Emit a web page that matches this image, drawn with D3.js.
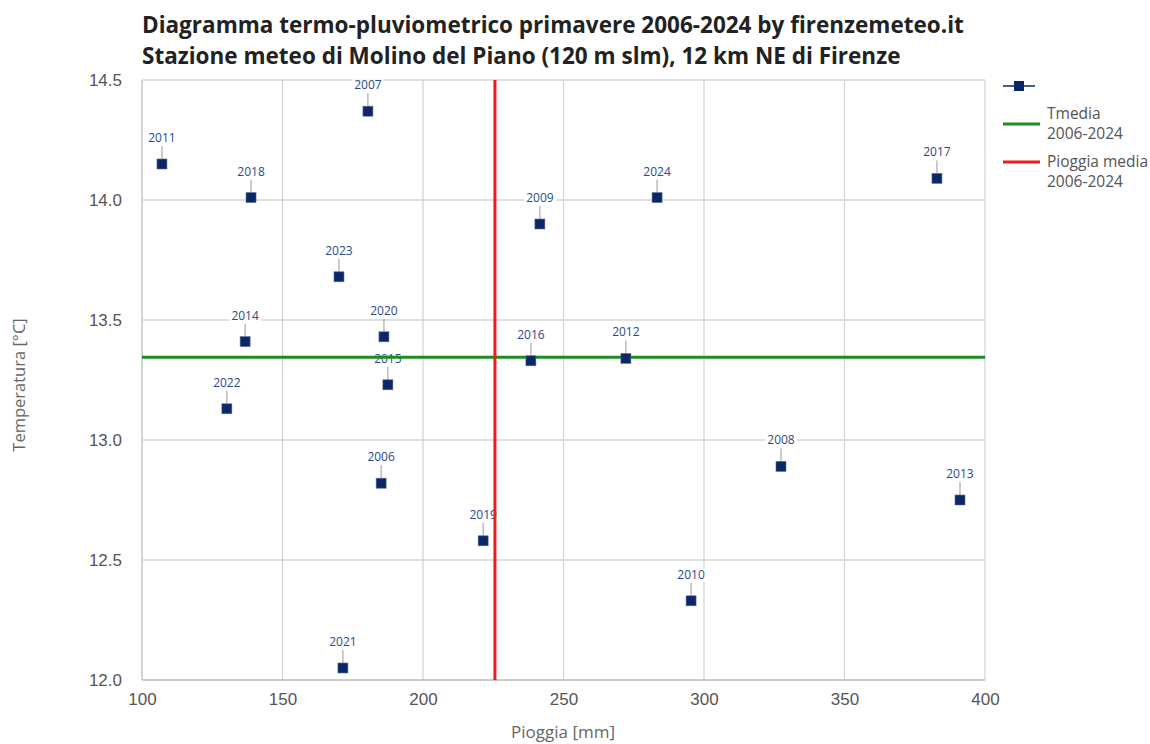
<!DOCTYPE html>
<html>
<head>
<meta charset="utf-8">
<script src="https://cdn.jsdelivr.net/npm/d3@7"></script>
<style>
  body { margin: 0; background: #fff; }
  svg { display: block; }
</style>
</head>
<body>
<svg width="1150" height="744"></svg>
<script>
// --- Data (primavera 2006-2024) ---
const years = [2006, 2007, 2008, 2009, 2010, 2011, 2012, 2013, 2014, 2015,
               2016, 2017, 2018, 2019, 2020, 2021, 2022, 2023, 2024];
const rain = [185.1, 180.4, 327.4, 241.6, 295.4, 107.1, 272.2, 391.1, 136.7, 187.5,
              238.4, 382.9, 138.8, 221.4, 186.1, 171.5, 130.2, 170.1, 283.3];
const temp = [12.82, 14.37, 12.89, 13.90, 12.33, 14.15, 13.34, 12.75, 13.41, 13.23,
              13.33, 14.09, 14.01, 12.58, 13.43, 12.05, 13.13, 13.68, 14.01];
const tMedia = 13.345;
const rainMedia = 225.6;
const xTicks = [100, 150, 200, 250, 300, 350, 400];
const yTicks = [12.0, 12.5, 13.0, 13.5, 14.0, 14.5];

const svg = d3.select("svg");
const margin = { top: 80, right: 165, bottom: 64, left: 142 };
const width = +svg.attr("width");
const height = +svg.attr("height");

const x = d3.scaleLinear().domain([100, 400]).range([margin.left, width - margin.right]);
const y = d3.scaleLinear().domain([12, 14.5]).range([height - margin.bottom, margin.top]);

const navy = "#0b2766";
const labelColor = "#2a4a8a";

// titles
svg.append("text").attr("x", 142).attr("y", 33)
  .attr("font-family", "Open Sans").attr("font-weight", 700).attr("font-size", 22.5)
  .attr("fill", "#222").text("Diagramma termo-pluviometrico primavere 2006-2024 by firenzemeteo.it");
svg.append("text").attr("x", 142).attr("y", 64)
  .attr("font-family", "Open Sans").attr("font-weight", 700).attr("font-size", 22.5)
  .attr("fill", "#222").text("Stazione meteo di Molino del Piano (120 m slm), 12 km NE di Firenze");

// grid
const grid = svg.append("g");
grid.selectAll(".gx").data(xTicks).join("line")
  .attr("x1", d => x(d)).attr("x2", d => x(d))
  .attr("y1", y(12)).attr("y2", y(14.5))
  .attr("stroke", d => d === 100 ? "#bdbdbd" : "#d6d6d6").attr("stroke-width", 1.3);
grid.selectAll(".gy").data(yTicks).join("line")
  .attr("x1", x(100)).attr("x2", x(400))
  .attr("y1", d => y(d)).attr("y2", d => y(d))
  .attr("stroke", d => d === 12 ? "#bdbdbd" : "#d6d6d6").attr("stroke-width", 1.3);

// axes tick labels
const xAxis = svg.append("g").attr("transform", `translate(0,${y(12)})`)
  .call(d3.axisBottom(x).tickValues(xTicks).tickSize(0).tickPadding(13).tickFormat(d3.format("d")));
const yAxis = svg.append("g").attr("transform", `translate(${x(100)},0)`)
  .call(d3.axisLeft(y).tickValues(yTicks).tickSize(0).tickPadding(20).tickFormat(d3.format(".1f")));
[xAxis, yAxis].forEach(a => {
  a.select(".domain").remove();
  a.selectAll("text").attr("font-family", "Liberation Sans, Arial").attr("font-size", 17).attr("fill", "#555");
});

// axis titles
svg.append("text").attr("x", 563).attr("y", 738).attr("text-anchor", "middle")
  .attr("font-family", "Open Sans").attr("font-size", 17).attr("fill", "#666").text("Pioggia [mm]");
svg.append("text").attr("transform", `translate(25,${(y(12) + y(14.5)) / 2 + 5}) rotate(-90)`)
  .attr("text-anchor", "middle")
  .attr("font-family", "Open Sans").attr("font-size", 16.5).attr("fill", "#666").text("Temperatura [°C]");

const points = years.map((yr, i) => ({ year: yr, rain: rain[i], temp: temp[i] }));

// labels (under reference lines)
const lbl = svg.append("g");
lbl.selectAll("line").data(points).join("line")
  .attr("x1", d => x(d.rain)).attr("x2", d => x(d.rain))
  .attr("y1", d => y(d.temp) - 5).attr("y2", d => y(d.temp) - 18)
  .attr("stroke", "#999").attr("stroke-width", 1);
lbl.selectAll("rect").data(points).join("rect")
  .attr("x", d => x(d.rain) - 16).attr("y", d => y(d.temp) - 32)
  .attr("width", 32).attr("height", 13).attr("fill", "#fff");
lbl.selectAll("text").data(points).join("text")
  .attr("x", d => x(d.rain)).attr("y", d => y(d.temp) - 22)
  .attr("text-anchor", "middle")
  .attr("font-family", "Open Sans").attr("font-size", 12).attr("fill", labelColor)
  .text(d => d.year);

// reference lines
svg.append("line").attr("x1", x(100)).attr("x2", x(400))
  .attr("y1", y(tMedia)).attr("y2", y(tMedia))
  .attr("stroke", "#1e8c1e").attr("stroke-width", 3);
svg.append("line").attr("x1", x(rainMedia)).attr("x2", x(rainMedia))
  .attr("y1", y(12)).attr("y2", y(14.5))
  .attr("stroke", "#ee1c1c").attr("stroke-width", 3);

// markers
svg.append("g").selectAll("rect").data(points).join("rect")
  .attr("x", d => x(d.rain) - 5).attr("y", d => y(d.temp) - 5)
  .attr("width", 10).attr("height", 10)
  .attr("fill", navy).attr("stroke", "#5a6f9a").attr("stroke-width", 0.6);

// legend
const lg = svg.append("g").attr("font-family", "Open Sans").attr("font-size", 15.5).attr("fill", "#555");
lg.append("line").attr("x1", 1003).attr("x2", 1035).attr("y1", 86).attr("y2", 86)
  .attr("stroke", navy).attr("stroke-width", 1.5);
lg.append("rect").attr("x", 1014).attr("y", 81).attr("width", 10).attr("height", 10).attr("fill", navy);
lg.append("line").attr("x1", 1003).attr("x2", 1040).attr("y1", 124).attr("y2", 124)
  .attr("stroke", "#1e8c1e").attr("stroke-width", 3);
lg.append("text").attr("x", 1047).attr("y", 119).text("Tmedia");
lg.append("text").attr("x", 1047).attr("y", 139).text("2006-2024");
lg.append("line").attr("x1", 1003).attr("x2", 1040).attr("y1", 162).attr("y2", 162)
  .attr("stroke", "#ee1c1c").attr("stroke-width", 3);
lg.append("text").attr("x", 1047).attr("y", 167).text("Pioggia media");
lg.append("text").attr("x", 1047).attr("y", 187).text("2006-2024");
</script>
</body>
</html>
